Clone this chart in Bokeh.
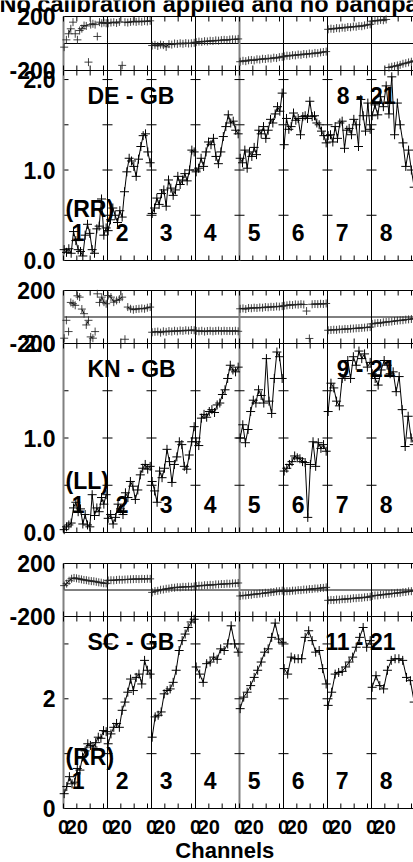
import math
from bokeh.plotting import figure
from bokeh.models import Range1d
from bokeh.core.properties import value
from bokeh.embed import file_html
from bokeh.resources import INLINE

# ---------------- data ----------------
TITLE = "No calibration applied and no bandpass"
X_AXIS_LABEL = "Channels"
BASELINES = ["DE - GB", "KN - GB", "SC - GB"]
POLS = ["(RR)", "(LL)", "(RR)"]
SOURCES = ["8 - 21", "9 - 21", "11 - 21"]
IF_LABELS = ["1", "2", "3", "4", "5", "6", "7", "8"]
X_LABELLED_TICKS = [0, 20]
X_TICK_LABELS = ["0", "20"]
X_MINOR_TICKS = [40, 60]
PHASE_TICKS = [-200, 200]
PHASE_TICK_LABELS = ["-200", "200"]
AMP12_TICKS = [0.0, 1.0, 2.0]
AMP12_TICK_LABELS = ["0.0", "1.0", "2.0"]
AMP12_MINOR = [0.5, 1.5]
AMP3_TICKS = [0, 2]
AMP3_TICK_LABELS = ["0", "2"]
AMP3_MINOR = [1, 3]

DE_GB_AMP = [
    [0.12, 0.09, 0.13, 0.08, 0.32, 0.22, 0.12, 0.10, 0.05, 0.28, 0.40, 0.30, 0.12, 0.08, 0.35, 0.38, 0.68, 0.28, 0.36],
    [0.33, 0.45, 0.58, 0.50, 0.42, 0.55, 0.48, 0.76, 0.98, 1.13, 1.10, 1.04, 0.93, 1.12, 1.26, 1.38, 1.40, 1.20, 1.08],
    [0.52, 0.58, 0.69, 0.62, 0.74, 0.78, 0.60, 0.89, 0.80, 0.72, 0.78, 0.93, 0.84, 0.89, 0.96, 0.88, 1.00, 1.22, 1.20],
    [0.98, 1.02, 1.13, 1.04, 1.20, 1.31, 1.28, 1.35, 1.15, 1.07, 1.20, 1.37, 1.48, 1.61, 1.52, 1.54, 1.44, 1.40],
    [1.13, 1.08, 1.22, 1.02, 1.20, 1.15, 1.25, 1.17, 1.44, 1.40, 1.48, 1.35, 1.44, 1.56, 1.52, 1.62, 1.70, 1.65, 1.85],
    [1.28, 1.57, 1.45, 1.48, 1.63, 1.55, 1.57, 1.39, 1.59, 1.60, 1.57, 1.76, 1.59, 1.60, 1.52, 1.50, 1.43, 1.38, 1.30],
    [1.38, 1.39, 1.31, 1.48, 1.35, 1.52, 1.54, 1.24, 1.44, 1.46, 1.39, 1.56, 1.50, 1.26, 1.78, 1.60, 1.43, 1.74, 1.45],
    [1.60, 1.72, 1.61, 1.81, 1.70, 1.93, 1.62, 2.03, 1.39, 1.74, 1.50, 1.30, 1.04, 1.22, 1.00, 0.81],
]
DE_GB_PHASE = [
    [-27, 27, 72, 109, 158, 72, 27, 96, 110, 133, 130, -138, 140, 146, 140, 52, 158, 150, 155, 150],
    [150, 155, 158, 152, 160, -162, 158, 155, 160, 164, 160, 165, 161, 166, 163, 168],
    [-15, -10, -18, -8, -12, -25, -5, -8, 0, -3, 2, -2, 3, 0, 2, 5],
    [10, 14, 12, 17, 15, 20, 18, 23, 21, 25, 27, 25, 29, 31, 30, 34],
    [-135, -128, -131, -124, -122, -125, -117, -119, -113, -115, -110, -112, -105, -108, -101, -99],
    [-95, -90, -92, -86, -88, -82, -84, -78, -80, -74, -76, -70, -72, -66, -63, -60],
    [105, 110, 108, 114, 112, 118, 116, 122, 120, 126, 124, 130, 128, 134, 138, 142],
    [165, 170, 168, 175, 172, 178, -178, -172, -168, -163, -158, -150, -146, -140, -135, -128],
]
KN_GB_AMP = [
    [0.03, 0.06, 0.08, 0.10, 0.26, 0.32, 0.22, 0.25, 0.09, 0.19, 0.08, 0.06, 0.40, 0.18, 0.26, 0.22, 0.37, 0.30, 0.40],
    [0.15, 0.19, 0.09, 0.16, 0.30, 0.25, 0.19, 0.42, 0.37, 0.54, 0.49, 0.35, 0.45, 0.61, 0.68, 0.72, 0.67, 0.70],
    [0.54, 0.44, 0.32, 0.65, 0.58, 0.68, 0.88, 0.75, 0.53, 0.72, 0.80, 0.96, 0.93, 0.70, 0.67, 0.82, 0.96, 1.12],
    [0.96, 0.92, 1.21, 1.25, 1.22, 1.28, 1.30, 1.27, 1.35, 1.37, 1.46, 1.51, 1.63, 1.77, 1.72, 1.70, 1.75],
    [1.00, 1.14, 0.95, 1.09, 1.28, 1.40, 1.37, 1.51, 1.45, 1.37, 1.84, 1.39, 1.26, 1.63, 1.91, 1.86, 1.63],
    [0.65, 0.68, 0.72, 0.75, 0.81, 0.79, 0.78, 0.75, 0.74, 0.16, 0.72, 0.96, 0.70, 0.95, 0.89, 0.93, 0.86],
    [1.28, 1.58, 1.53, 1.39, 1.34, 1.63, 1.65, 1.82, 1.63, 1.86, 1.77, 1.92, 1.84, 1.89, 1.75, 1.80],
    [1.68, 1.63, 1.56, 1.72, 1.82, 1.77, 1.68, 1.70, 1.49, 1.65, 1.30, 0.91, 1.23, 1.00, 0.93],
]
KN_GB_PHASE = [
    [-160, -25, -110, 110, 100, 88, 160, 150, 60, 25, -60, -25, -150, -160, -110, 175, 110, 150, 112, 100],
    [162, 150, 112, 125, 135, 150, -168, 75, 62, 55, 60, 62, 65, 62, 70, 75],
    [-115, -112, -110, -118, -108, -112, -106, -110, -104, -108, -102, -105, -100, -103, -98, -100],
    [-105, -108, -104, -110, -106, -104, -108, -105, -103, -107, -104, -106, -105, -107, -104, -108],
    [62, 65, 60, 68, 66, 70, 68, 72, 70, 75, 73, 77, 76, 80, 78, 82],
    [85, 88, 92, 90, 95, 93, 97, 94, 45, -162, 96, 98, 97, 100, 98, 102],
    [-100, -98, -96, -97, -93, -94, -90, -91, -88, -87, -85, -84, -82, -80, -78, -76],
    [-52, -48, -45, -46, -40, -38, -36, -34, -30, -28, -25, -24, -20, -18, -15, -12],
]
SC_GB_AMP = [
    [0.27, 0.40, 0.58, 0.45, 0.48, 0.73, 0.70, 0.94, 1.05, 1.18, 1.15, 1.12, 1.20, 1.30, 1.28, 1.42, 1.40],
    [1.18, 1.36, 1.48, 1.55, 1.48, 1.79, 1.94, 2.12, 2.36, 2.15, 2.39, 2.45, 2.27, 2.70, 2.52, 2.45],
    [1.30, 1.67, 1.70, 1.76, 2.09, 2.15, 2.18, 2.30, 2.52, 2.88, 3.06, 3.18, 3.30, 3.40, 3.45],
    [2.58, 2.45, 2.30, 2.64, 2.67, 2.76, 2.72, 2.91, 2.88, 3.00, 3.33, 3.00, 2.85],
    [1.82, 2.03, 2.12, 2.24, 2.39, 2.52, 2.67, 2.85, 2.91, 3.12, 3.38, 3.09, 3.03],
    [2.55, 2.45, 2.76, 2.73, 2.73, 2.73, 3.12, 3.24, 3.06, 2.85, 2.88, 2.55, 2.27],
    [1.88, 2.12, 2.45, 2.48, 2.50, 2.58, 2.67, 2.76, 2.94, 3.12, 3.30, 2.94, 3.06],
    [2.21, 2.42, 2.24, 2.18, 2.52, 2.70, 2.73, 2.73, 2.70, 2.39, 2.33, 1.94],
]
SC_GB_PHASE = [
    [33, 48, 70, 85, 91, 88, 84, 80, 76, 74, 70, 67, 66, 62, 58, 55, 51, 50],
    [72, 74, 73, 76, 78, 77, 79, 80, 81, 82, 83, 82, 84, 83, 85, 84],
    [-18, -8, -6, 2, 4, 9, 11, 16, 17, 21, 20, 24, 23, 26, 24, 27],
    [30, 33, 32, 36, 36, 39, 38, 42, 42, 45, 45, 48, 47, 50, 50, 53],
    [-45, -41, -41, -37, -36, -31, -31, -27, -26, -21, -21, -16, -15, -10, -9, -5],
    [-12, -9, -9, -5, -5, -1, -1, 3, 3, 7, 7, 11, 11, 15, 16, 20],
    [-78, -75, -76, -72, -73, -69, -69, -66, -66, -62, -62, -59, -59, -55, -54, -51],
    [-45, -41, -41, -36, -36, -31, -31, -26, -26, -21, -21, -16, -15, -10, -9, -5],
]

# ---------------- layout constants ----------------
FONT = "Liberation Sans"
PANEL = 66            # channel units per IF panel
N_IF = 8
PX = 1.5              # channel units per pixel
LEFT_PX = 63          # room for the value labels left of the panels
FRAME_W = 413
FRAME_H = 862
X_END = 525
BANDS = {"ph1": (792, 846), "amp1": (602, 792),
         "ph2": (519, 572), "amp2": (330, 519),
         "ph3": (246, 299), "amp3": (54, 246)}
LIMS = {"ph1": (-200, 200), "amp1": (0, 2.1),
        "ph2": (-200, 200), "amp2": (0, 2.0),
        "ph3": (-200, 200), "amp3": (0, 3.5)}


def units_per_px(name):
    b0, b1 = BANDS[name]
    d0, d1 = LIMS[name]
    return (d1 - d0) / (b1 - b0)


def make_range(name):
    b0, b1 = BANDS[name]
    d0, d1 = LIMS[name]
    k = units_per_px(name)
    return Range1d(start=d0 - b0 * k, end=d1 + (FRAME_H - b1) * k)


def to_main(name, v):
    b0, b1 = BANDS[name]
    d0, d1 = LIMS[name]
    return b0 + (v - d0) * (b1 - b0) / (d1 - d0)


def chan_x(panel, n):
    return [panel * PANEL + 1 + k * 63.0 / (n - 1) for k in range(n)]


p = figure(frame_width=FRAME_W, frame_height=FRAME_H,
           x_range=Range1d(-LEFT_PX * PX, X_END), y_range=Range1d(0, FRAME_H),
           output_backend="svg", toolbar_location=None,
           min_border_left=0, min_border_right=0, min_border_top=0, min_border_bottom=0)
p.xaxis.visible = False
p.yaxis.visible = False
p.outline_line_color = None
p.xgrid.visible = False
p.ygrid.visible = False
p.background_fill_color = "white"
p.border_fill_color = "white"

for name in BANDS:
    p.extra_y_ranges[name] = make_range(name)

TXT = dict(text_font=value(FONT), text_font_style="bold", text_color="black",
           text_baseline="middle")

# ---------- value labels and ticks on the left edge ----------
ylab_y, ylab_t, ytick_y = [], [], []
for name in BANDS:
    if name.startswith("ph"):
        vals, labs, mins = PHASE_TICKS, PHASE_TICK_LABELS, []
    elif name == "amp3":
        vals, labs, mins = AMP3_TICKS, AMP3_TICK_LABELS, AMP3_MINOR
    else:
        vals, labs, mins = AMP12_TICKS, AMP12_TICK_LABELS, AMP12_MINOR
    for v, l in zip(vals, labs):
        ylab_y.append(to_main(name, v))
        ylab_t.append(l)
    ytick_y += [to_main(name, v) for v in list(vals) + list(mins)]
p.text(x=[-8 * PX] * len(ylab_y), y=ylab_y, text=ylab_t, text_align="right",
       text_font_size="23px", **TXT)
p.segment(x0=[0] * len(ytick_y), x1=[5 * PX] * len(ytick_y), y0=ytick_y, y1=ytick_y,
          line_color="black", line_width=1)

# ---------- channel labels, axis name, title ----------
xlab_x, xlab_t, all_xt = [], [], []
for i in range(N_IF):
    for v, l in zip(X_LABELLED_TICKS, X_TICK_LABELS):
        xlab_x.append(i * PANEL + v)
        xlab_t.append(l)
    all_xt += [i * PANEL + v for v in X_LABELLED_TICKS + X_MINOR_TICKS]
p.text(x=xlab_x, y=[35.5] * len(xlab_x), text=xlab_t, text_align="center",
       text_font_size="20px", **TXT)
p.text(x=[242], y=[12.5], text=[X_AXIS_LABEL], text_align="center",
       text_font_size="22px", **TXT)
p.text(x=[-96], y=[859], text=[TITLE], text_align="left",
       text_font_size="23.5px", **TXT)

# ---------- frames of sub-plots ----------
bounds_black = [i * PANEL for i in range(1, N_IF) if i != 4]
bounds_gray = [0, 4 * PANEL]
for name in BANDS:
    d0, d1 = LIMS[name]
    hl = [d0, d1] + ([0] if name.startswith("ph") else [])
    p.segment(x0=[0] * len(hl), x1=[X_END] * len(hl), y0=hl, y1=hl,
              line_color="black", line_width=1, y_range_name=name)
    p.segment(x0=bounds_black, x1=bounds_black, y0=[d0] * len(bounds_black), y1=[d1] * len(bounds_black),
              line_color="black", line_width=1, y_range_name=name)
    p.segment(x0=bounds_gray, x1=bounds_gray, y0=[d0] * 2, y1=[d1] * 2,
              line_color="#808080", line_width=2, y_range_name=name)
    tl = 5 * units_per_px(name)
    p.segment(x0=all_xt, x1=all_xt, y0=[d0] * len(all_xt), y1=[d0 + tl] * len(all_xt),
              line_color="black", line_width=1, y_range_name=name)
    p.segment(x0=all_xt, x1=all_xt, y0=[d1] * len(all_xt), y1=[d1 - tl] * len(all_xt),
              line_color="black", line_width=1, y_range_name=name)
    if name.startswith("amp"):
        yt = sorted((AMP3_TICKS + AMP3_MINOR) if name == "amp3" else (AMP12_TICKS + AMP12_MINOR))[1:]
        bx = [i * PANEL for i in range(1, N_IF)]
        p.scatter(x=[b for b in bx for _ in yt], y=[v for _ in bx for v in yt], marker="dash",
                  size=10, line_color="black", line_width=1, y_range_name=name)

# ---------- data ----------
SETS = [("amp1", "ph1", DE_GB_AMP, DE_GB_PHASE),
        ("amp2", "ph2", KN_GB_AMP, KN_GB_PHASE),
        ("amp3", "ph3", SC_GB_AMP, SC_GB_PHASE)]
NAN = float("nan")
for amp_name, ph_name, amps, phases in SETS:
    lx, ly, mx, my = [], [], [], []
    for i, vals in enumerate(amps):
        xs = chan_x(i, len(vals))
        lx += xs + [NAN]
        ly += vals + [NAN]
        mx += xs
        my += vals
    p.line(lx, ly, line_color="black", line_width=1, y_range_name=amp_name)
    p.scatter(mx, my, marker="cross", size=9, line_color="black", line_width=1, y_range_name=amp_name)

    lx, ly, mx, my = [], [], [], []
    for i, vals in enumerate(phases):
        xs = chan_x(i, len(vals))
        for j, (x, v) in enumerate(zip(xs, vals)):
            if j > 0 and abs(v - vals[j - 1]) > 40:
                lx.append(NAN)
                ly.append(NAN)
            lx.append(x)
            ly.append(v)
        lx.append(NAN)
        ly.append(NAN)
        mx += xs
        my += vals
    p.line(lx, ly, line_color="black", line_width=1, y_range_name=ph_name)
    p.scatter(mx, my, marker="cross", size=8, line_color="#222222", line_alpha=0.85,
              line_width=1, y_range_name=ph_name)

# ---------- panel texts ----------
for k, (amp_name, _, _, _) in enumerate(SETS):
    d0, d1 = LIMS[amp_name]
    common = dict(y_range_name=amp_name, text_font_size="23px", **TXT)
    p.text(x=[36], y=[d1], text=[BASELINES[k]], y_offset=25, text_align="left", **common)
    p.text(x=[498], y=[d1], text=[SOURCES[k]], y_offset=25, text_align="right", **common)
    p.text(x=[3], y=[d0], text=[POLS[k]], y_offset=-52, text_align="left", **common)
    p.text(x=[i * PANEL + 22 for i in range(N_IF)], y=[d0] * N_IF, text=IF_LABELS,
           y_offset=-28, text_align="center", **common)

open("out.html", "w").write(file_html(p, INLINE))
